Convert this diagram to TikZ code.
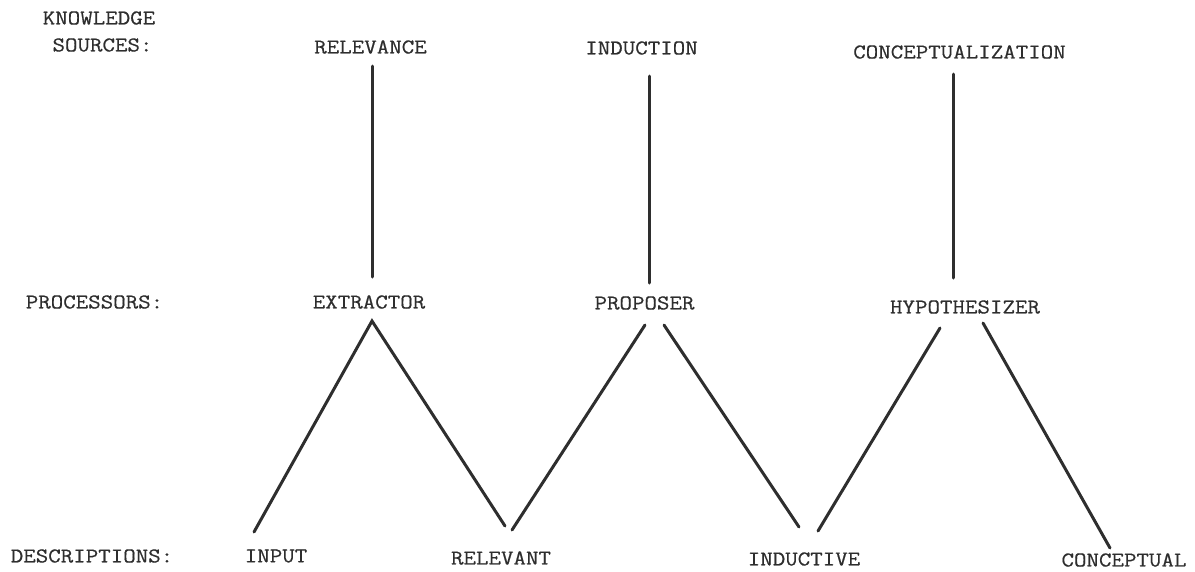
\documentclass[tikz,border=0pt]{standalone}
\usepackage{fontspec}
\setmonofont{Latin Modern Mono}[FakeBold=0.6,FakeStretch=1.15]
\begin{document}
\begin{tikzpicture}[x=1pt,y=-1pt,
  lbl/.style={inner sep=0pt, text=ink, font=\ttfamily\fontsize{21.1}{24}\selectfont},
  link/.style={draw=ink, line width=3pt, line cap=round}]
\definecolor{ink}{gray}{0.18}
\useasboundingbox (0,0) rectangle (1195,571);

% row captions
\node[lbl] (kn)  at (99,18)   {KNOWLEDGE};
\node[lbl] (src) at (102.5,45) {SOURCES:};
\node[lbl] (prc) at (94.5,302) {PROCESSORS:};
\node[lbl] (dsc) at (92,556)  {DESCRIPTIONS:};

% knowledge sources
\node[lbl] (rel) at (370.5,47) {RELEVANCE};
\node[lbl] (ind) at (641.5,48) {INDUCTION};
\node[lbl] (con) at (959.5,52) {CONCEPTUALIZATION};

% processors
\node[lbl] (ext) at (369,302)   {EXTRACTOR};
\node[lbl] (pro) at (644.5,303) {PROPOSER};
\node[lbl] (hyp) at (965,307)   {HYPOTHESIZER};

% descriptions
\node[lbl] (inp)  at (276,556)  {INPUT};
\node[lbl] (rlv)  at (501,558)  {RELEVANT};
\node[lbl] (indv) at (804,559)  {INDUCTIVE};
\node[lbl] (cncp) at (1124,560) {CONCEPTUAL};

% line ends next to the labels
\coordinate (rel-b) at (372,66);   \coordinate (ext-t) at (372,277);
\coordinate (ind-b) at (649,76);   \coordinate (pro-t) at (649,283);
\coordinate (con-b) at (953,74);   \coordinate (hyp-t) at (953,278);

\coordinate (ext-b) at (372,321);
\coordinate (pro-bl) at (645,325); \coordinate (pro-br) at (664,325);
\coordinate (hyp-bl) at (940,328); \coordinate (hyp-br) at (983,323);

\coordinate (inp-t)  at (254,532);
\coordinate (rlv-tl) at (505,526); \coordinate (rlv-tr) at (512,530);
\coordinate (ind-tl) at (799,527); \coordinate (ind-tr) at (818,531);
\coordinate (cnc-t)  at (1110,548);

% knowledge source -- processor links
\draw[link] (rel-b) -- (ext-t);
\draw[link] (ind-b) -- (pro-t);
\draw[link] (con-b) -- (hyp-t);

% processor -- description links
\draw[link] (inp-t) -- (ext-b) -- (rlv-tl);
\draw[link] (rlv-tr) -- (pro-bl);
\draw[link] (pro-br) -- (ind-tl);
\draw[link] (ind-tr) -- (hyp-bl);
\draw[link] (hyp-br) -- (cnc-t);
\end{tikzpicture}
\end{document}
